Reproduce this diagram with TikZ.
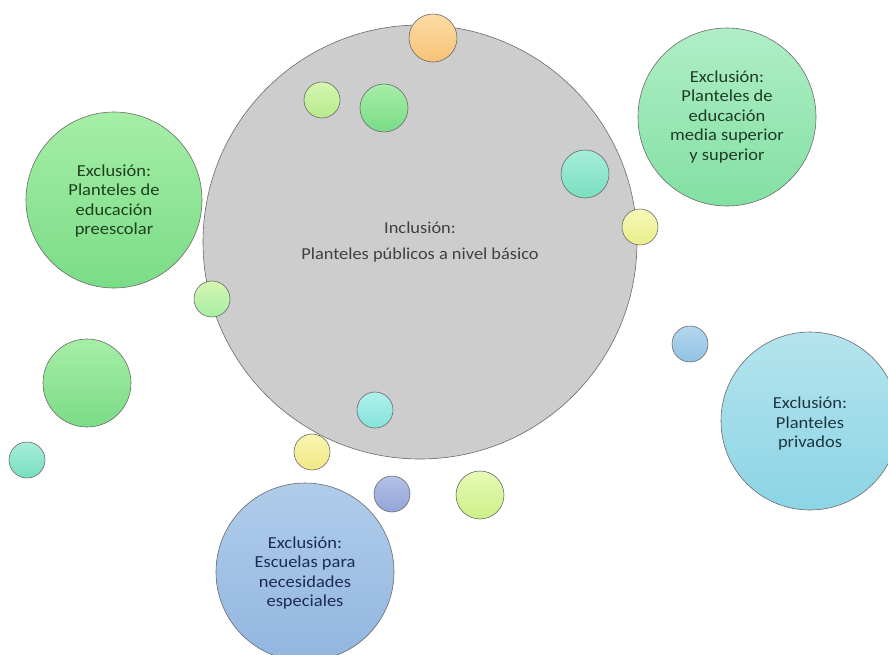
\documentclass[tikz,border=0pt]{standalone}
\usepackage{fontspec}
\setmainfont[FakeStretch=1.1]{Carlito}
\definecolor{rimgray}{HTML}{6A6A6A}
\definecolor{coregray}{HTML}{CDCDCD}
\definecolor{orangeA}{HTML}{FDDCA6}\definecolor{orangeB}{HTML}{F8C275}
\definecolor{limeA}{HTML}{D6F6B0}\definecolor{limeB}{HTML}{B6EA8C}
\definecolor{greenA}{HTML}{A6EEA6}\definecolor{greenB}{HTML}{7ADC86}
\definecolor{tealA}{HTML}{A6EEDA}\definecolor{tealB}{HTML}{78DEBE}
\definecolor{yellowA}{HTML}{F6F8B6}\definecolor{yellowB}{HTML}{E8EE8A}
\definecolor{mintA}{HTML}{B0EEC6}\definecolor{mintB}{HTML}{82E0A2}
\definecolor{aquaA}{HTML}{B0F0EC}\definecolor{aquaB}{HTML}{84E2DC}
\definecolor{sandA}{HTML}{FAF4B0}\definecolor{sandB}{HTML}{F2E886}
\definecolor{slateA}{HTML}{B4C2E6}\definecolor{slateB}{HTML}{92A4D8}
\definecolor{skyA}{HTML}{B4D6EE}\definecolor{skyB}{HTML}{92C2E4}
\definecolor{cyanA}{HTML}{B4E4EE}\definecolor{cyanB}{HTML}{8CD4E4}
\definecolor{chartA}{HTML}{E6FAB4}\definecolor{chartB}{HTML}{CCF088}
\definecolor{blueA}{HTML}{B0CCEA}\definecolor{blueB}{HTML}{92B6E0}
\tikzset{
    bubble/.style={circle, draw=rimgray, line width=0.6pt, inner sep=0pt},
    bubbletext/.style={align=center, font=\fontsize{16.8}{19.5}\selectfont}
}
\begin{document}
\begin{tikzpicture}[x=1pt, y=-1pt]
    \useasboundingbox (0,0) rectangle (888,654);

    \node[bubble, fill=coregray, minimum size=434pt] (core) at (420,242) {};
    \node[align=center, text=black!75, font=\fontsize{16.7}{26}\selectfont]
        (coretext) at (420,242) {Inclusión:\\Planteles públicos a nivel básico};

    \foreach \nm/\cx/\cy/\r/\ca/\cb in {
        dotorange/433/38/24/orangeA/orangeB,
        dotlime/322/100/18/limeA/limeB,
        dotgreen/384/108/24/greenA/greenB,
        dotteal/585/174/24/tealA/tealB,
        dotyellow/640/227/18/yellowA/yellowB,
        dotleft/212/299/18/limeA/greenA,
        dotbig/87/383/44/greenA/greenB,
        dotfar/27/460/18/tealA/tealB,
        dotaqua/375/410/18/aquaA/aquaB,
        dotsand/312/452/18/sandA/sandB,
        dotslate/392/494/18/slateA/slateB,
        dotsky/690/344/18/skyA/skyB,
        dotchart/480/495/24/chartA/chartB}
        \node[bubble, top color=\ca, bottom color=\cb, minimum size=2*\r pt]
            (\nm) at (\cx,\cy) {};

    \node[bubble, top color=greenA, bottom color=greenB, minimum size=176pt]
        (preescolar) at (114,200) {};
    \node[bubbletext, text={rgb,255:red,30;green,64;blue,32}] at ([yshift=-1pt]preescolar)
        {Exclusión:\\Planteles de\\educación\\preescolar};

    \node[bubble, top color=mintA, bottom color=mintB, minimum size=178pt]
        (mediasup) at (727,117) {};
    \node[bubbletext, text={rgb,255:red,30;green,60;blue,40}] at (mediasup)
        {Exclusión:\\Planteles de\\educación\\media superior\\y superior};

    \node[bubble, top color=cyanA, bottom color=cyanB, minimum size=178pt]
        (privados) at (810,421) {};
    \node[bubbletext, text={rgb,255:red,30;green,54;blue,64}] at ([yshift=-3pt]privados)
        {Exclusión:\\Planteles\\privados};

    \node[bubble, top color=blueA, bottom color=blueB, minimum size=178pt]
        (especiales) at (305,572) {};
    \node[bubbletext, text={rgb,255:red,28;green,44;blue,80}] at ([yshift=-1pt]especiales)
        {Exclusión:\\Escuelas para\\necesidades\\especiales};
\end{tikzpicture}
\end{document}
